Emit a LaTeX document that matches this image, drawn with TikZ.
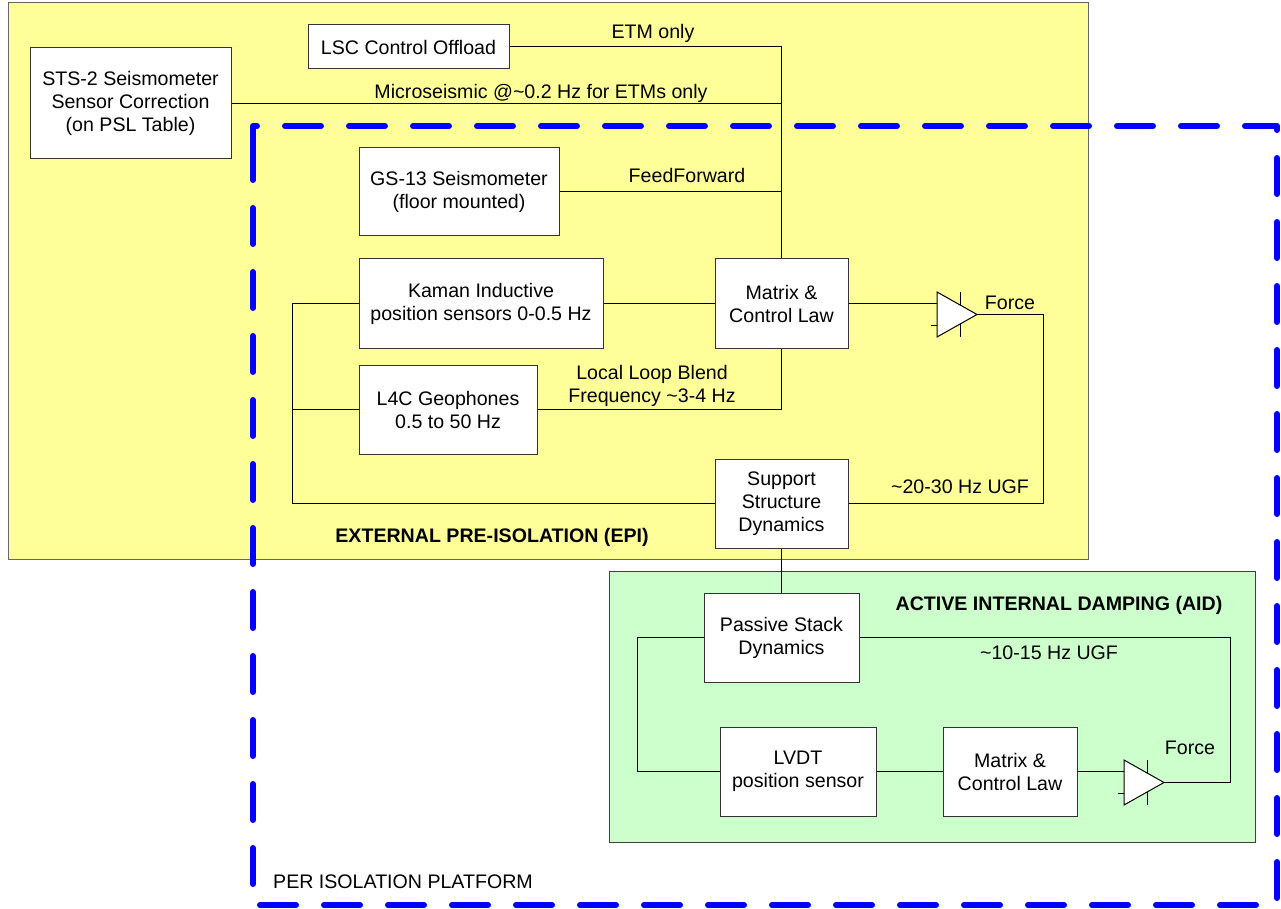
\documentclass[tikz,border=0pt]{standalone}
\usepackage{fontspec}
\setmainfont{Liberation Sans}
\usetikzlibrary{calc}
\definecolor{epiyellow}{RGB}{255,255,153}
\definecolor{aidgreen}{RGB}{204,255,204}
\definecolor{dashblue}{RGB}{0,0,255}
% amplifier symbol: name, left x, centre y
\newcommand{\ampsym}[3]{%
  \draw[fill=white, line width=0.75pt] (#2,#3-22.5) -- (#2+40,#3) -- (#2,#3+22.5) -- cycle;
  \draw[line width=0.75pt] (#2+23,#3-22.5) -- (#2+23,#3-9.5) (#2+23,#3+9.5) -- (#2+23,#3+22.5) (#2-6,#3+11) -- (#2,#3+11);
  \coordinate (#1-in) at (#2,#3-11);
  \coordinate (#1-out) at (#2+40,#3);}

\begin{document}
\begin{tikzpicture}[x=0.75pt, y=-0.75pt, font=\fontsize{14.7}{17.25}\selectfont,
  blk/.style={draw=black!80, fill=white, line width=0.75pt, inner sep=0pt, align=center},
  lbl/.style={inner sep=0pt, align=center},
  title/.style={inner sep=0pt, font=\fontsize{14.7}{17.25}\selectfont\bfseries},
  wire/.style={line width=0.75pt}]
\useasboundingbox (0,0) rectangle (1281,909);
% regions
\draw[black!60, fill=epiyellow, line width=0.75pt] (8,3) rectangle (1088,559);
\draw[black!75, fill=aidgreen, line width=0.75pt] (609,571) rectangle (1255,842);
\draw[dashblue, line width=4.5pt, line cap=round, line join=round, dash pattern=on 27pt off 21pt]
  (253,158) -- (253,126) -- (1277,126) -- (1277,905) -- (253,905) -- cycle;

\node[blk, minimum width=150.75pt, minimum height=83.25pt] (1) at (130.5,103.5) {STS-2 Seismometer\\Sensor Correction\\(on PSL Table)};
\node[blk, minimum width=150.75pt, minimum height=33pt] (2) at (408.5,47) {LSC Control Offload};
\node[blk, minimum width=150pt, minimum height=66pt] (3) at (459,192) {GS-13 Seismometer\\(floor mounted)};
\node[blk, minimum width=183pt, minimum height=66.75pt] (4) at (481,303.5) {Kaman Inductive\\position sensors 0-0.5 Hz};
\node[blk, minimum width=99.75pt, minimum height=66.75pt] (5) at (781.5,303.5) {Matrix \&\\Control Law};
\node[blk, minimum width=133.5pt, minimum height=66.75pt] (6) at (448,409.5) {L4C Geophones\\0.5 to 50 Hz};
\node[blk, minimum width=99.75pt, minimum height=66.75pt] (7) at (781.5,503.5) {Support\\Structure\\Dynamics};
\node[blk, minimum width=116.25pt, minimum height=66.75pt] (8) at (781.5,637.5) {Passive Stack\\Dynamics};
\node[blk, minimum width=117pt, minimum height=66.75pt] (9) at (798,771.5) {LVDT\\position sensor};
\node[blk, minimum width=100.5pt, minimum height=66.75pt] (10) at (1010,771.5) {Matrix \&\\Control Law};

% EPI loop
\draw[wire] (2.east) -| (5.north);
\draw[wire] (1.east) -| (5.north);
\draw[wire] (3.east) -| (5.north);
\draw[wire] (4.east) -- (5.west);
\coordinate (c1) at (292,303.5);
\draw[wire] (4.west) -- (c1) |- (7.west);
\draw[wire] (6.west) -- (6.west -| c1);
\draw[wire] (6.east) -| (5.south);
\ampsym{a1}{937}{314.5}
\draw[wire] (5.east) -- (a1-in);
\coordinate (c2) at (1043,314.5);
\draw[wire] (a1-out) -- (c2) |- (7.east);
\draw[wire] (7.south) -- (8.north);
% AID loop
\coordinate (c3) at (637,637.5);
\coordinate (c4) at (1230,637.5);
\draw[wire] (8.west) -- (c3) |- (9.west);
\draw[wire] (9.east) -- (10.west);
\ampsym{a2}{1124}{782.5}
\draw[wire] (10.east) -- (a2-in);
\draw[wire] (a2-out) -| (c4) -- (8.east);

\node[lbl] (l1) at (653,33) {ETM only};
\node[lbl] (l2) at (541,93) {Microseismic @\textasciitilde 0.2 Hz for ETMs only};
\node[lbl] (l3) at (687,175) {FeedForward};
\node[lbl] (l4) at (652,386) {Local Loop Blend\\Frequency \textasciitilde 3-4 Hz};
\node[lbl] (l5) at (1010,303) {Force};
\node[lbl] (l6) at (960,487) {\textasciitilde 20-30 Hz UGF};
\node[title] (l7) at (492,537) {EXTERNAL PRE-ISOLATION (EPI)};
\node[title] (l8) at (1059,605) {ACTIVE INTERNAL DAMPING (AID)};
\node[lbl] (l9) at (1049,653) {\textasciitilde 10-15 Hz UGF};
\node[lbl] (l10) at (1190,748) {Force};
\node[lbl] (l11) at (403,882) {PER ISOLATION PLATFORM};
\end{tikzpicture}
\end{document}
